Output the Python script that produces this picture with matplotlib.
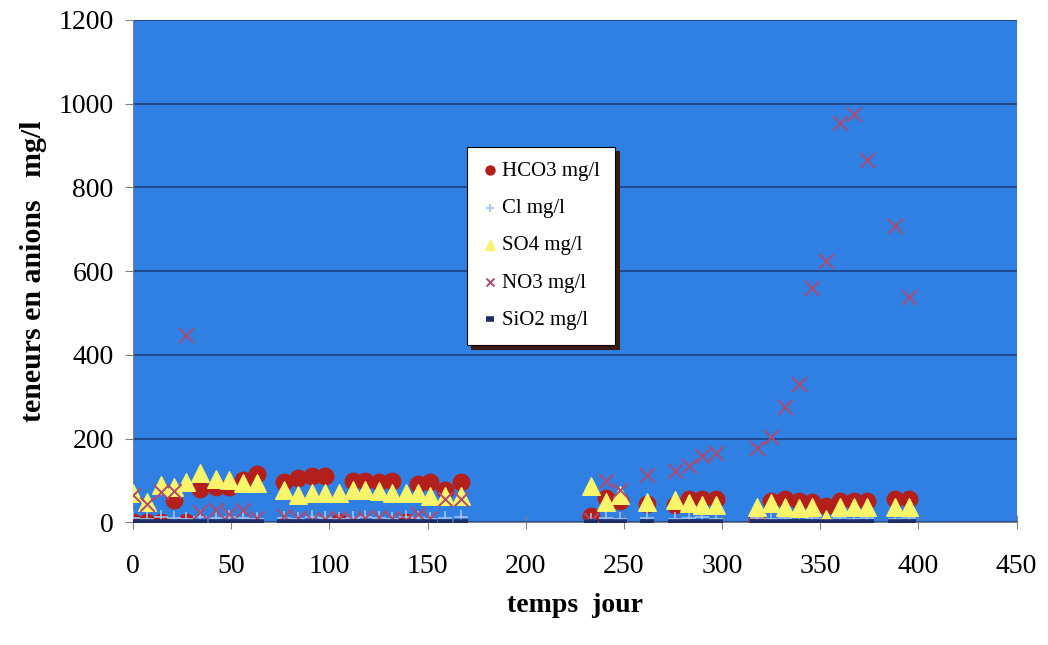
import matplotlib
matplotlib.use("Agg")
import matplotlib.pyplot as plt
import numpy as np

# sampling days (two campaigns)
days = [0, 7, 14, 21, 27, 34, 42, 49, 56, 63, 77, 84, 91, 98, 105, 112, 118,
        125, 132, 139, 145, 151, 159, 167,
        233, 241, 248, 262, 276, 283, 290, 297, 318, 325, 332, 339, 346, 353,
        360, 367, 374, 388, 395]

hco3 = [2, 2, 2, 54, 0, 80, 85, 85, 102, 115, 96, 106, 110, 110, 0, 98, 98,
        96, 98, 0, 92, 96, 78, 96,
        15, 58, 52, 45, 42, 55, 55, 55, 5, 52, 55, 52, 50, 40,
        52, 52, 52, 55, 55]

cl = [10, 8, 12, 10, 8, 12, 10, 12, 10, 8, 10, 8, 12, 10, 8, 10, 12,
      10, 8, 12, 10, 8, 10, 12,
      5, 10, 8, 10, 8, 10, 12, 8, 10, 8, 10, 12, 10, 8,
      10, 8, 10, 8, 10]

so4 = [70, 48, 90, 85, 97, 117, 104, 102, 94, 94, 78, 66, 70, 70, 70, 77, 77,
       75, 70, 70, 70, 62, 62, 62,
       86, 50, 66, 50, 54, 47, 42, 42, 38, 46, 38, 35, 38, 8,
       38, 38, 38, 38, 38]

no3 = [65, 45, 72, 74, 447, 25, 30, 20, 30, 10, 15, 10, 5, 8, 10, 5, 10,
       12, 10, 5, 20, 10, 55, 55,
       5, 98, 78, 114, 122, 134, 158, 166, 178, 203, 275, 330, 560, 625,
       954, 976, 865, 707, 539]

sio2 = [1, 1, 1, 1, 1, 1, 1, 1, 1, 1, 1, 1, 1, 1, 1, 1, 1,
        1, 1, 1, 1, 1, 1, 1,
        1, 1, 1, 1, 1, 1, 1, 1, 1, 1, 1, 1, 1, 1,
        1, 1, 1, 1, 1]

plt.rcParams['font.family'] = ['Liberation Serif', 'DejaVu Serif']

fig = plt.figure(figsize=(10.48, 6.45), dpi=100)
ax = fig.add_axes([0.127, 0.19, 0.843, 0.779])
ax.set_facecolor('#2f80e2')

ax.scatter(days, hco3, s=140, marker='o', color='#b3201c', label='HCO3 mg/l', zorder=3)
ax.scatter(days, cl, s=90, marker='+', color='#9ec2f2', linewidths=1.2, label='Cl mg/l', zorder=4)
ax.scatter(days, so4, s=160, marker='^', color='#f8f56a', label='SO4 mg/l', zorder=5)
ax.scatter(days, no3, s=110, marker='x', color='#b04a70', linewidths=1.4, label='NO3 mg/l', zorder=6)
ax.scatter(days, sio2, s=90, marker='_', color='#1d2c66', linewidths=4, label='SiO2 mg/l', zorder=7)

ax.set_xlim(0, 450)
ax.set_ylim(0, 1200)
ax.set_xticks(np.arange(0, 451, 50))
ax.set_yticks(np.arange(0, 1201, 200))
ax.grid(axis='y', color='#1c3f80', linewidth=1.2)
ax.set_axisbelow(True)

for side in ['top', 'right']:
    ax.spines[side].set_visible(False)
ax.spines['left'].set_color('#808080')
ax.spines['bottom'].set_color('#808080')
ax.tick_params(axis='y', length=6, color='#808080', labelsize=20, pad=8)
ax.tick_params(axis='x', direction='inout', length=10, color='#808080', labelsize=20, pad=18)

ax.set_xlabel('temps  jour', fontsize=20, fontweight='bold', labelpad=10)
ax.set_ylabel('teneurs en anions   mg/l', fontsize=21.5, fontweight='bold', labelpad=8)

leg = ax.legend(loc='upper left', bbox_to_anchor=(0.378, 0.748), borderaxespad=0,
                fontsize=15, markerscale=0.55, labelspacing=0.85, handletextpad=0.2,
                handlelength=0.8, borderpad=0.7, fancybox=False,
                framealpha=1, edgecolor='black',
                shadow={'color': '#3a1a12', 'alpha': 1, 'ox': 3, 'oy': -3})
leg.get_frame().set_linewidth(0.8)

fig.savefig('out.png', dpi=100)
